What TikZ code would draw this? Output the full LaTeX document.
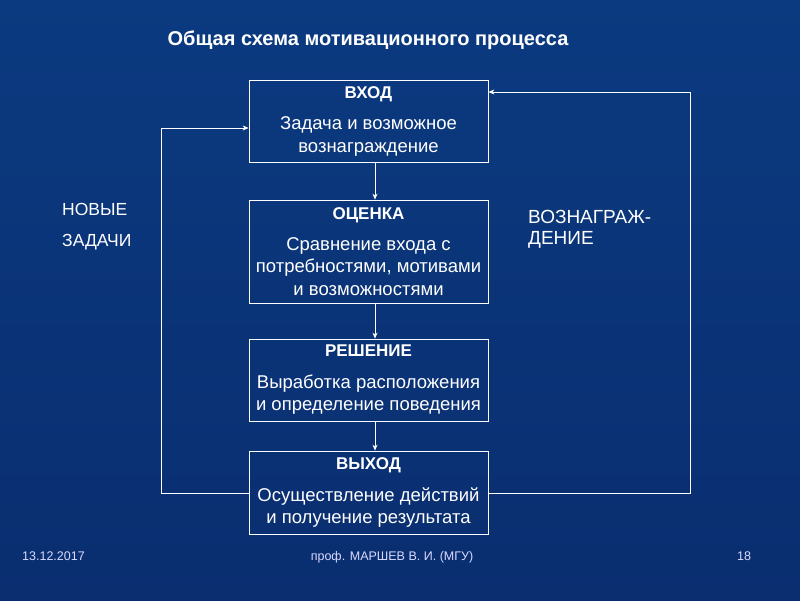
\documentclass[tikz,border=0pt]{standalone}
\usepackage{fontspec}
\setmainfont{Liberation Sans}
\usetikzlibrary{arrows.meta}
\definecolor{bgtop}{HTML}{0B3A80}
\definecolor{bgmid}{HTML}{1B68BC}
\definecolor{bgbot}{HTML}{0A2E70}
\begin{document}
\begin{tikzpicture}[x=1pt,y=-1pt,
  box/.style={draw=white,line width=0.8pt,minimum width=239pt,align=center,text=white,font=\fontsize{18.5}{22.5}\selectfont,inner sep=0pt},
  conn/.style={draw=white,line width=0.8pt,-{Stealth[length=6pt,width=5pt]}},
  lbl/.style={text=white,font=\fontsize{19}{22}\selectfont,anchor=west,inner sep=0pt},
  foot/.style={text=white!85!blue,font=\fontsize{12.5}{14}\selectfont,inner sep=0pt}]
\useasboundingbox (0,0) rectangle (800,600);
\shade[top color=bgtop, middle color=bgmid, bottom color=bgbot] (0,0) rectangle (800,600);
\node[text=white,font=\bfseries\fontsize{20}{24}\selectfont] (title) at (368,40) {Общая схема мотивационного\ процесса};
\newcommand\hd[1]{{\bfseries\fontsize{17}{20}\selectfont #1}}
\node[box,minimum height=82pt] (in) at (368.5,121) {\hd{ВХОД}\\[9pt]Задача и возможное\\вознаграждение};
\node[box,minimum height=103pt] (ev) at (368.5,251.5) {\hd{ОЦЕНКА}\\[8pt]Сравнение входа с\\потребностями, мотивами\\и возможностями};
\node[box,minimum height=82pt] (dec) at (368.5,380) {\hd{РЕШЕНИЕ}\\[9pt]Выработка расположения\\и определение поведения};
\node[box,minimum height=83pt] (out) at (368.5,492.5) {\hd{ВЫХОД}\\[9pt]Осуществление действий\\и получение результата};
\draw[conn] (in.south -| 375,0) -- (ev.north -| 375,0);
\draw[conn] (ev.south -| 375,0) -- (dec.north -| 375,0);
\draw[conn] (dec.south -| 375,0) -- (out.north -| 375,0);
\coordinate (lt) at (161,128); \coordinate (lb) at (161,493);
\coordinate (rt) at (690,92); \coordinate (rb) at (690,493);
\draw[conn] (out.west |- lb) -- (lb) -- (lt) -- (in.west |- lt);
\draw[conn] (out.east |- rb) -- (rb) -- (rt) -- (in.east |- rt);
\node[lbl,font=\fontsize{17.5}{20}\selectfont] (n1) at (62,209) {НОВЫЕ};
\node[lbl,font=\fontsize{17.5}{20}\selectfont] (n2) at (62,242) {ЗАДАЧИ};
\node[lbl] (r1) at (528,217) {ВОЗНАГРАЖ-};
\node[lbl] (r2) at (528,240) {ДЕНИЕ};
\node[foot,anchor=west] (d) at (22,556) {13.12.2017};
\node[foot] (a) at (392,557) {проф. МАРШЕВ В. И. (МГУ)};
\node[foot] (p) at (744,556) {18};
\end{tikzpicture}
\end{document}
